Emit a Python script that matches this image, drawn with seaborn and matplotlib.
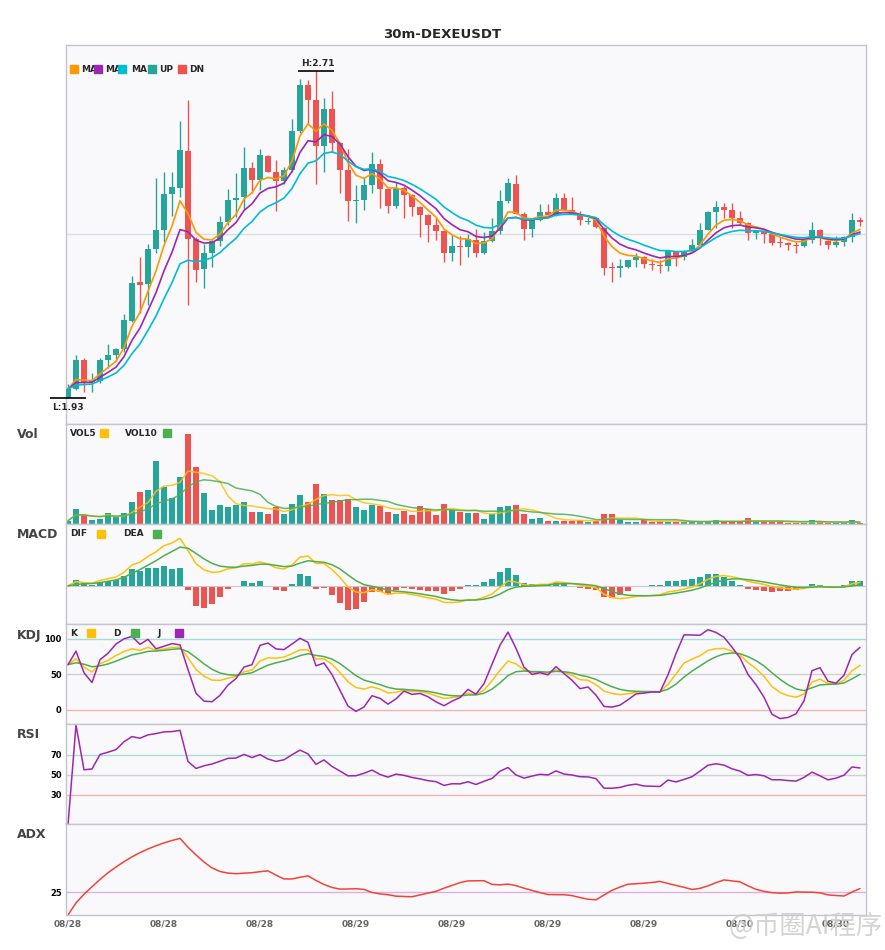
import pandas as pd
import seaborn as sns
import matplotlib.pyplot as plt
from matplotlib.patches import Rectangle

# данные свечей (30m, DEXEUSDT)
title = "30m-DEXEUSDT"
start_time = "2025-08-28 08:00"

open_p = [1.930, 1.951, 2.020, 1.968, 1.970, 2.020, 2.032, 2.047, 2.113, 2.206,
          2.202, 2.285, 2.330, 2.416, 2.431, 2.519, 2.309, 2.237, 2.276, 2.304,
          2.350, 2.402, 2.409, 2.478, 2.450, 2.507, 2.469, 2.447, 2.474, 2.567,
          2.676, 2.641, 2.531, 2.619, 2.538, 2.474, 2.400, 2.402, 2.438, 2.488,
          2.428, 2.388, 2.431, 2.414, 2.385, 2.366, 2.342, 2.328, 2.276, 2.292,
          2.290, 2.307, 2.276, 2.304, 2.328, 2.400, 2.440, 2.369, 2.333, 2.354,
          2.373, 2.366, 2.407, 2.378, 2.369, 2.350, 2.359, 2.335, 2.242, 2.240,
          2.242, 2.259, 2.266, 2.249, 2.247, 2.245, 2.280, 2.266, 2.280, 2.295,
          2.330, 2.373, 2.385, 2.378, 2.359, 2.347, 2.323, 2.328, 2.321, 2.300,
          2.299, 2.295, 2.292, 2.307, 2.330, 2.304, 2.295, 2.302, 2.314, 2.354]
high_p = [1.963, 2.032, 2.025, 1.989, 2.025, 2.059, 2.050, 2.130, 2.221, 2.266,
          2.297, 2.454, 2.469, 2.469, 2.590, 2.641, 2.314, 2.297, 2.306, 2.364,
          2.428, 2.466, 2.528, 2.493, 2.524, 2.509, 2.497, 2.481, 2.595, 2.691,
          2.688, 2.710, 2.645, 2.662, 2.540, 2.524, 2.438, 2.457, 2.516, 2.500,
          2.430, 2.445, 2.435, 2.416, 2.387, 2.368, 2.359, 2.330, 2.319, 2.316,
          2.321, 2.333, 2.326, 2.359, 2.426, 2.454, 2.462, 2.373, 2.354, 2.392,
          2.392, 2.419, 2.419, 2.409, 2.376, 2.361, 2.360, 2.337, 2.254, 2.261,
          2.259, 2.276, 2.268, 2.261, 2.259, 2.280, 2.281, 2.282, 2.309, 2.347,
          2.375, 2.400, 2.395, 2.395, 2.376, 2.349, 2.328, 2.330, 2.323, 2.314,
          2.301, 2.302, 2.307, 2.350, 2.332, 2.306, 2.316, 2.316, 2.371, 2.361]
low_p = [1.930, 1.949, 1.944, 1.944, 1.965, 2.001, 2.020, 2.040, 2.111, 2.132,
         2.152, 2.276, 2.302, 2.364, 2.409, 2.152, 2.206, 2.192, 2.242, 2.292,
         2.342, 2.361, 2.378, 2.419, 2.426, 2.469, 2.376, 2.440, 2.469, 2.562,
         2.586, 2.440, 2.469, 2.516, 2.419, 2.352, 2.347, 2.378, 2.419, 2.383,
         2.371, 2.383, 2.359, 2.364, 2.314, 2.302, 2.307, 2.254, 2.257, 2.247,
         2.266, 2.266, 2.274, 2.302, 2.321, 2.395, 2.369, 2.307, 2.314, 2.352,
         2.366, 2.364, 2.378, 2.369, 2.342, 2.345, 2.335, 2.223, 2.206, 2.218,
         2.240, 2.242, 2.240, 2.235, 2.228, 2.233, 2.245, 2.259, 2.278, 2.294,
         2.330, 2.335, 2.359, 2.335, 2.342, 2.307, 2.309, 2.299, 2.295, 2.290,
         2.283, 2.276, 2.290, 2.299, 2.295, 2.285, 2.290, 2.292, 2.302, 2.340]
close_p = [1.951, 2.020, 1.968, 1.970, 2.020, 2.032, 2.047, 2.116, 2.204, 2.199,
           2.285, 2.330, 2.416, 2.433, 2.521, 2.309, 2.235, 2.276, 2.304, 2.350,
           2.402, 2.407, 2.478, 2.450, 2.509, 2.469, 2.447, 2.474, 2.567, 2.676,
           2.641, 2.531, 2.619, 2.538, 2.474, 2.400, 2.402, 2.438, 2.488, 2.428,
           2.388, 2.431, 2.414, 2.385, 2.366, 2.342, 2.328, 2.276, 2.292, 2.290,
           2.309, 2.276, 2.304, 2.328, 2.400, 2.443, 2.369, 2.333, 2.354, 2.373,
           2.366, 2.407, 2.378, 2.369, 2.354, 2.352, 2.338, 2.240, 2.240, 2.245,
           2.259, 2.266, 2.249, 2.247, 2.245, 2.280, 2.266, 2.280, 2.295, 2.330,
           2.373, 2.385, 2.378, 2.359, 2.347, 2.323, 2.328, 2.321, 2.299, 2.299,
           2.295, 2.292, 2.307, 2.330, 2.314, 2.295, 2.302, 2.314, 2.354, 2.350]
# объем, тыс.
volume_k = [3.3, 15.0, 9.0, 4.3, 5.3, 11.3, 7.3, 11.3, 22.3, 32.3,
            34.3, 63.3, 37.3, 26.3, 47.3, 90.3, 57.3, 31.3, 14.3, 19.3,
            17.3, 19.3, 22.3, 12.3, 12.3, 10.3, 17.3, 10.3, 20.3, 29.3,
            22.3, 40.3, 30.3, 24.3, 24.3, 25.3, 17.3, 14.3, 19.3, 18.3,
            12.3, 10.3, 13.3, 9.3, 18.3, 15.3, 9.3, 20.3, 14.3, 12.3,
            11.3, 11.3, 5.3, 10.3, 17.3, 18.3, 19.3, 10.3, 5.3, 6.3,
            3.3, 3.3, 3.3, 3.3, 4.3, 2.3, 2.5, 10.3, 10.3, 4.0,
            2.3, 2.3, 4.0, 1.7, 3.3, 2.3, 2.3, 2.3, 2.3, 2.3,
            2.3, 4.3, 2.3, 2.3, 2.3, 6.3, 2.3, 2.3, 2.3, 2.3,
            1.3, 1.3, 1.3, 4.3, 2.3, 1.3, 1.3, 1.3, 4.3, 0.5]

df = pd.DataFrame({"open": open_p, "high": high_p, "low": low_p,
                   "close": close_p, "volume": volume_k})
df["time"] = pd.date_range(start_time, periods=len(df), freq="30min")
df["i"] = range(len(df))

UP, DN = "#26a69a", "#ef5350"
YEL, GRN, PUR = "#ffc107", "#4caf50", "#9c27b0"
colors = [UP if c >= o else DN for o, c in zip(df["open"], df["close"])]

# индикаторы
for n in (5, 8, 13):
    df[f"ma{n}"] = df["close"].ewm(span=n, adjust=False).mean()
df["vol5"] = df["volume"].rolling(5, min_periods=1).mean()
df["vol10"] = df["volume"].rolling(10, min_periods=1).mean()
df["dif"] = df["ma5"] - df["ma13"]
df["dea"] = df["dif"].ewm(span=5, adjust=False).mean()
df["hist"] = 2 * (df["dif"] - df["dea"])
lo9 = df["low"].rolling(9, min_periods=1).min()
hi9 = df["high"].rolling(9, min_periods=1).max()
rsv = (df["close"] - lo9) / (hi9 - lo9) * 100
df["k"] = rsv.ewm(com=2, adjust=False).mean()
df["d"] = df["k"].ewm(com=2, adjust=False).mean()
df["j"] = 3 * df["k"] - 2 * df["d"]
delta = df["close"].diff().fillna(0)
gain = delta.clip(lower=0).ewm(alpha=1 / 14).mean()
loss = (-delta).clip(lower=0).ewm(alpha=1 / 14).mean()
df["rsi"] = (100 * gain / (gain + loss)).fillna(0)
prev_close = df["close"].shift()
tr = pd.concat([df["high"] - df["low"], (df["high"] - prev_close).abs(),
                (df["low"] - prev_close).abs()], axis=1).max(axis=1)
up_move = df["high"].diff()
down_move = -df["low"].diff()
pdm = up_move.where((up_move > down_move) & (up_move > 0), 0).fillna(0)
mdm = down_move.where((down_move > up_move) & (down_move > 0), 0).fillna(0)
atr = tr.ewm(span=14, adjust=False).mean()
pdi = 100 * pdm.ewm(span=14, adjust=False).mean() / atr
mdi = 100 * mdm.ewm(span=14, adjust=False).mean() / atr
dx = (100 * (pdi - mdi).abs() / (pdi + mdi)).fillna(0)
df["adx"] = dx.ewm(span=14, adjust=False).mean()

sns.set_theme(style="white")
plt.rcParams["font.family"] = ["DejaVu Sans"]

W, H = 885, 950
fig = plt.figure(figsize=(W / 100, H / 100), dpi=100)


def fx(x):
    return x / W


def fy(y):
    return 1 - y / H


def panel(top, bottom):
    ax = fig.add_axes([fx(66), fy(bottom), 800 / W, (bottom - top) / H])
    ax.set_facecolor("#f9f9fb")
    for s in ax.spines.values():
        s.set_color("#c4c4cc")
        s.set_linewidth(1)
    ax.set_xlim(-0.25, len(df) - 0.25)
    ax.set_xticks([])
    ax.set_yticks([])
    ax.tick_params(length=0, pad=3)
    return ax


ax_main = panel(45, 424)
ax_vol = panel(424, 524)
ax_macd = panel(524, 624)
ax_kdj = panel(624, 724)
ax_rsi = panel(724, 824)
ax_adx = panel(824, 915)

# свечи
body_lo = df[["open", "close"]].min(axis=1)
body_h = (df["close"] - df["open"]).abs().clip(lower=0.0025)
ax_main.vlines(df["i"], df["low"], df["high"], colors=colors, lw=1.0, zorder=2)
ax_main.bar(df["i"], body_h, bottom=body_lo, width=0.75, color=colors, linewidth=0, zorder=3)
lo, hi = df["low"].min(), df["high"].max()
pad = (hi - lo) * 0.08
ax_main.set_ylim(lo - pad, hi + pad)
ax_main.axhline((lo + hi) / 2, color="#dcdce4", lw=1, zorder=1)
for col, c in (("ma5", "#ff9800"), ("ma8", PUR), ("ma13", "#00bcd4")):
    sns.lineplot(data=df, x="i", y=col, ax=ax_main, color=c, lw=1.2, zorder=4)

hi_i, lo_i = df["high"].idxmax(), df["low"].idxmin()
ax_main.hlines(hi, hi_i - 2.25, hi_i + 2.25, color="black", lw=1.2, clip_on=False, zorder=5)
ax_main.hlines(lo, lo_i - 2.25, lo_i + 2.25, color="black", lw=1.2, clip_on=False, zorder=5)
ax_main.annotate(f"H:{hi:.2f}", (hi_i, hi), xytext=(1, 2), textcoords="offset points",
                 ha="center", va="bottom", fontsize=6.5, weight="bold")
ax_main.annotate(f"L:{lo:.2f}", (lo_i, lo), xytext=(0, -4), textcoords="offset points",
                 ha="center", va="top", fontsize=6.5, weight="bold")

# объем
ax_vol.bar(df["i"], df["volume"], width=0.75, color=colors, linewidth=0)
sns.lineplot(data=df, x="i", y="vol5", ax=ax_vol, color=YEL, lw=1.1, alpha=0.85)
sns.lineplot(data=df, x="i", y="vol10", ax=ax_vol, color=GRN, lw=1.1, alpha=0.85)
ax_vol.set_ylim(0, df["volume"].max() * 1.107)

# MACD
ax_macd.axhline(0, color="#c8c8d0", lw=0.8)
ax_macd.bar(df["i"], df["hist"], width=0.75, linewidth=0,
            color=[UP if v >= 0 else DN for v in df["hist"]])
sns.lineplot(data=df, x="i", y="dif", ax=ax_macd, color=YEL, lw=1.1)
sns.lineplot(data=df, x="i", y="dea", ax=ax_macd, color=GRN, lw=1.1)
mv = pd.concat([df["dif"], df["dea"], df["hist"]])
rng = mv.max() - mv.min()
ax_macd.set_ylim(mv.min() - 0.2 * rng, mv.max() + 0.2 * rng)

# KDJ
ax_kdj.axhline(100, color="#a8dcd6", lw=1)
ax_kdj.axhline(50, color="#d0d0d6", lw=1)
ax_kdj.axhline(0, color="#f4b4b4", lw=1)
sns.lineplot(data=df, x="i", y="k", ax=ax_kdj, color=YEL, lw=1.1)
sns.lineplot(data=df, x="i", y="d", ax=ax_kdj, color=GRN, lw=1.1)
sns.lineplot(data=df, x="i", y="j", ax=ax_kdj, color=PUR, lw=1.1)
ax_kdj.set_ylim(-20, 121)
ax_kdj.set_yticks([0, 50, 100])

# RSI
ax_rsi.axhline(70, color="#a8dcd6", lw=1)
ax_rsi.axhline(50, color="#d0d0d6", lw=1)
ax_rsi.axhline(30, color="#f4b4b4", lw=1)
sns.lineplot(data=df, x="i", y="rsi", ax=ax_rsi, color=PUR, lw=1.1)
ax_rsi.set_ylim(1, 101)
ax_rsi.set_yticks([30, 50, 70])

# ADX
ax_adx.axhline(25, color="#dcb0e4", lw=1)
sns.lineplot(data=df, x="i", y="adx", ax=ax_adx, color="#f44336", lw=1.1)
ax_adx.set_ylim(0, 100)
ax_adx.set_yticks([25])
ticks = list(range(0, len(df), 12))
ax_adx.set_xticks(ticks)
ax_adx.set_xticklabels(df["time"].dt.strftime("%m/%d").iloc[ticks])
ax_adx.tick_params(axis="x", labelsize=6.5, labelcolor="#666666", pad=3)

for ax in (ax_main, ax_vol, ax_macd, ax_kdj, ax_rsi, ax_adx):
    ax.set_xlabel("")
    ax.set_ylabel("")
    ax.tick_params(axis="y", labelsize=6, labelcolor="black")
    for t in ax.get_xticklabels() + ax.get_yticklabels():
        t.set_fontweight("bold")

# заголовки и легенды
fig.text(0.5, fy(34), title, ha="center", va="center", fontsize=9.5, weight="bold")
for name, y in (("Vol", 434), ("MACD", 535), ("KDJ", 635), ("RSI", 735), ("ADX", 835)):
    fig.text(fx(17), fy(y), name, ha="left", va="center", fontsize=9, weight="bold", color="#444444")


def square(x, y, c):
    fig.add_artist(Rectangle((fx(x), fy(y + 4)), 8 / W, 8 / H, transform=fig.transFigure,
                             color=c, zorder=6))


def label(x, y, s):
    fig.text(fx(x), fy(y), s, ha="left", va="center", fontsize=6.5, weight="bold", zorder=5)


for sx, tx, c, s in ((70, 81, "#ff9800", "MA"), (94, 105, PUR, "MA"), (118, 131, "#00bcd4", "MA"),
                     (148, 159, UP, "UP"), (178, 189, DN, "DN")):
    label(tx, 69, s)
    square(sx, 69, c)
for y, items in ((433, ((70, "VOL5", 100, YEL), (125, "VOL10", 163, GRN))),
                 (534, ((70, "DIF", 97, YEL), (123, "DEA", 153, GRN))),
                 (633, ((70, "K", 87, YEL), (113, "D", 131, GRN), (157, "J", 175, PUR)))):
    for tx, s, sx, c in items:
        label(tx, y, s)
        square(sx, y, c)

fig.text(fx(729), fy(926), "@币圈AI程序", ha="left", va="center", fontsize=19, color="#cdcdcd",
         alpha=0.85, family=["Noto Sans CJK SC", "DejaVu Sans"], zorder=7)

fig.savefig("out.png", dpi=100)
